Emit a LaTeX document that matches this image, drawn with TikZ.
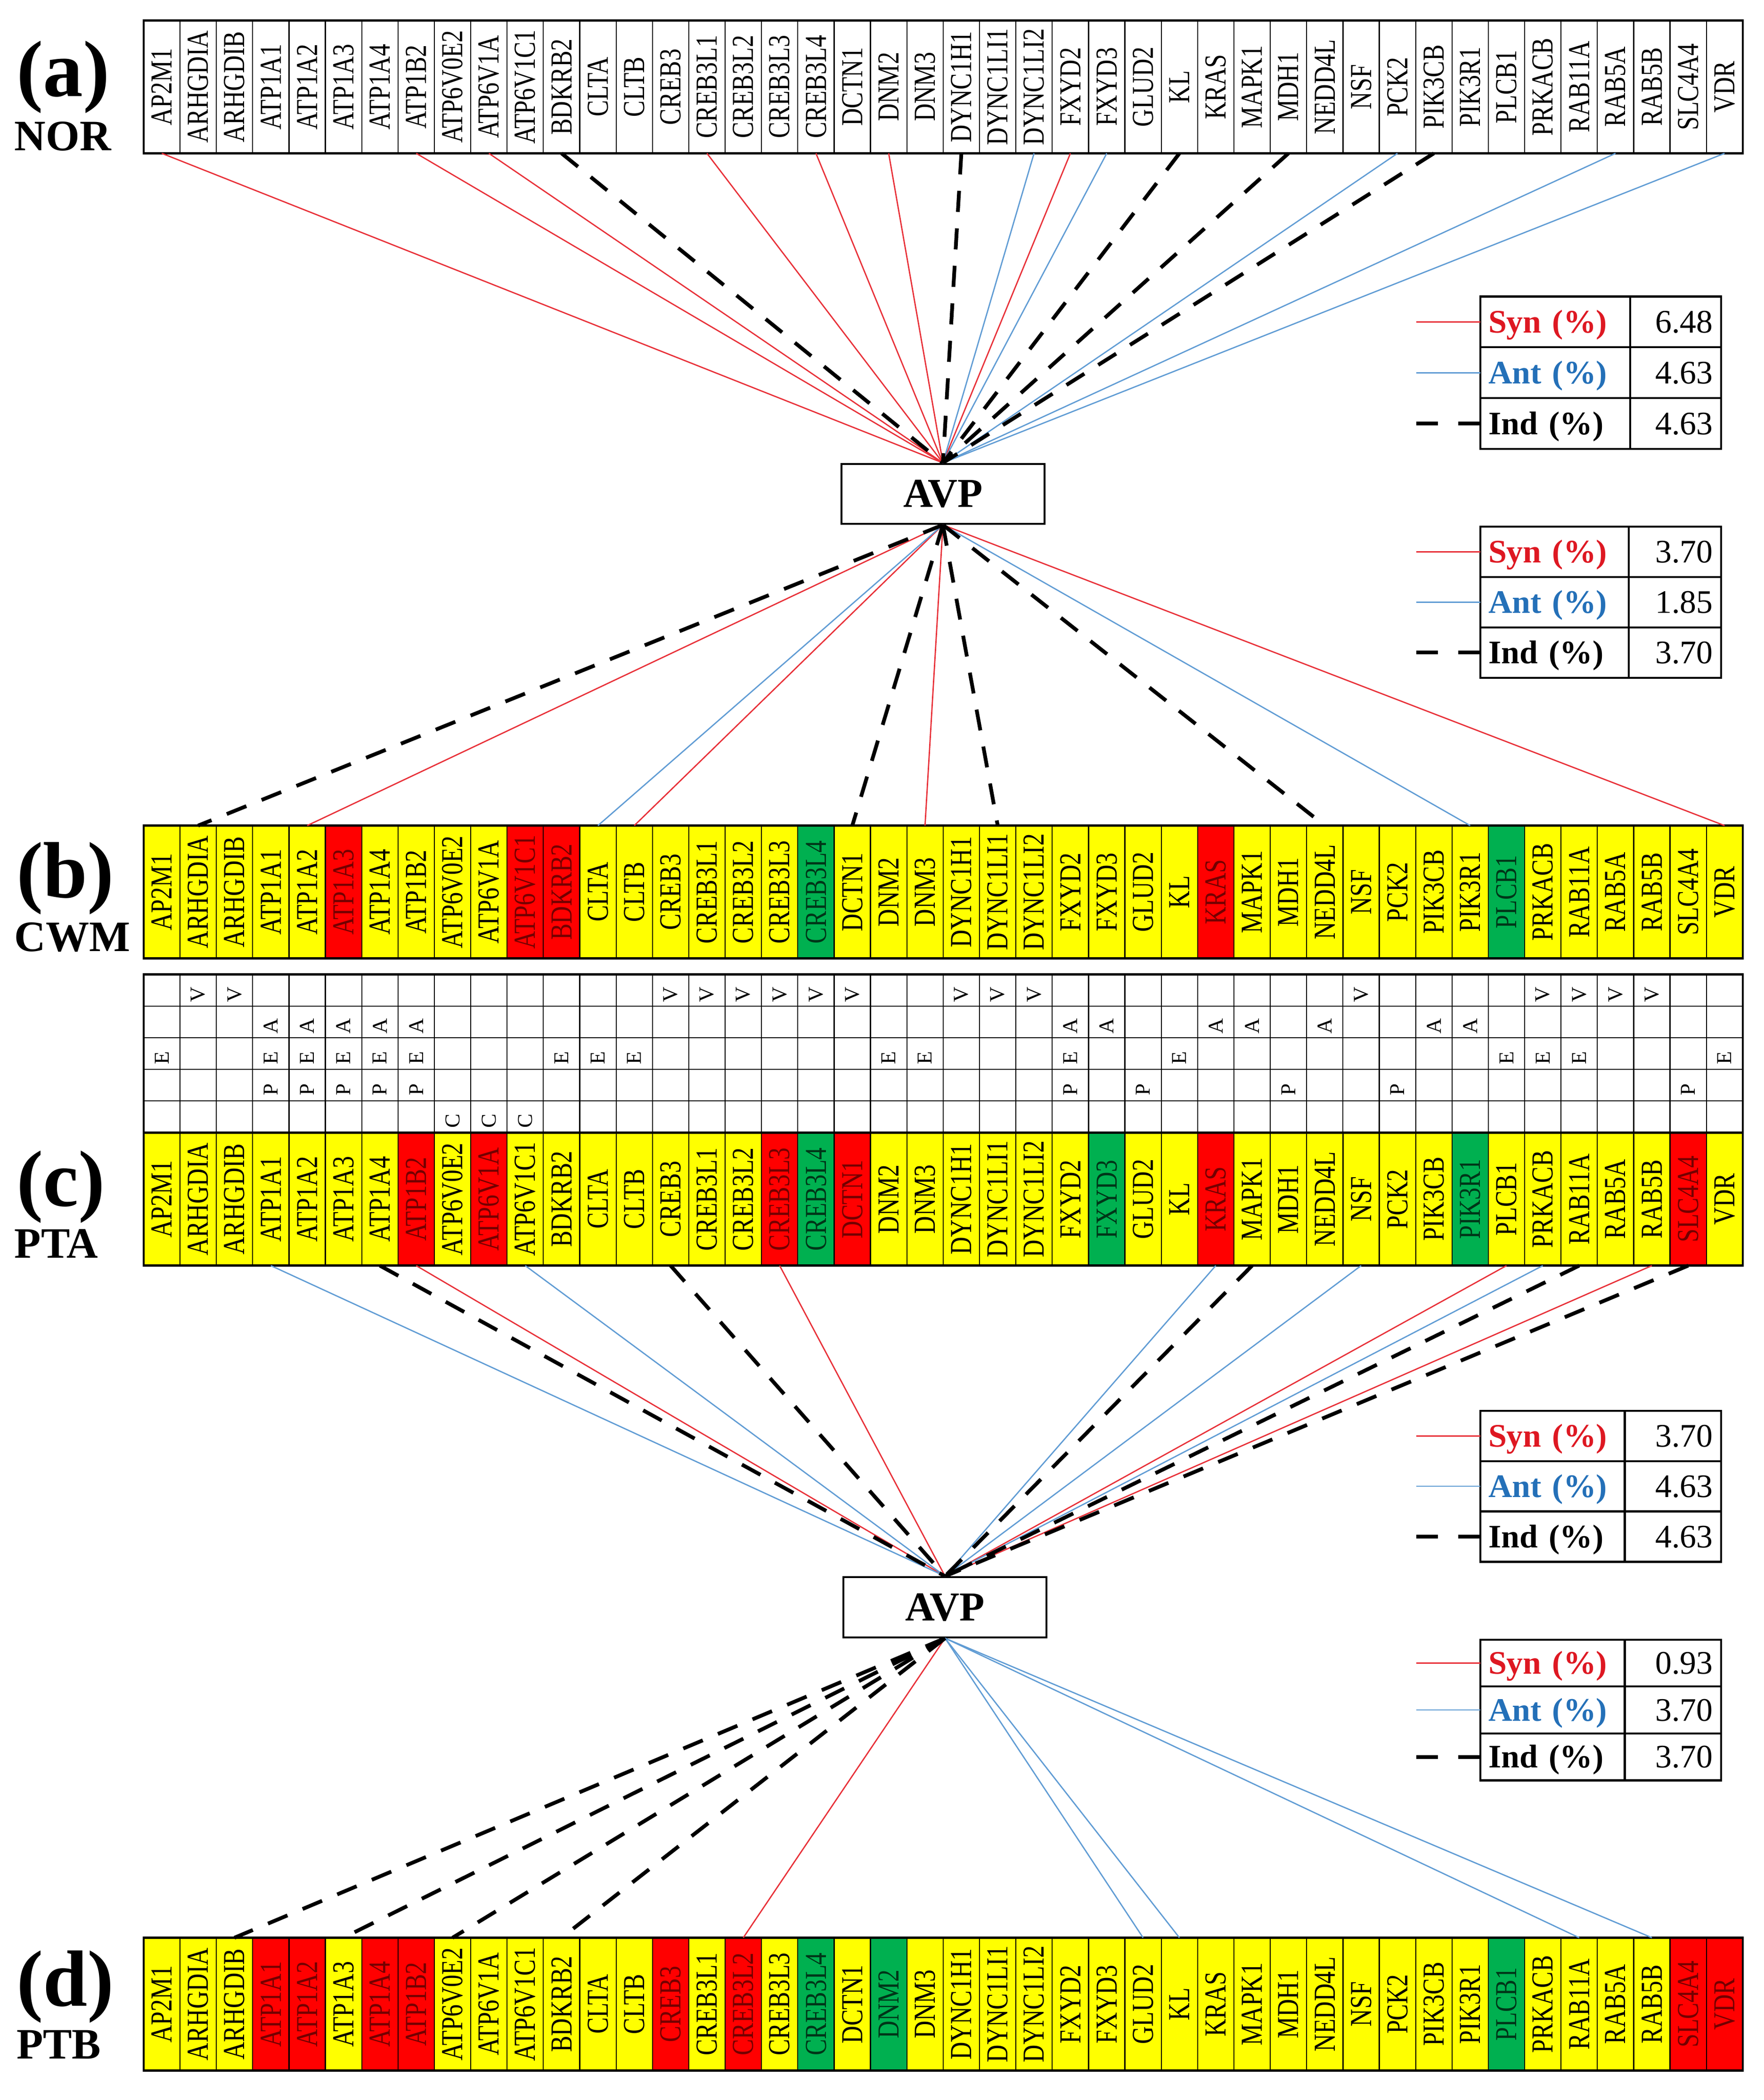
\documentclass[tikz,border=0pt]{standalone}
\usepackage{fontspec}
\usepackage{graphicx}
\setmainfont{Liberation Serif}
\usetikzlibrary{positioning}

\definecolor{cy}{RGB}{255,255,0}
\definecolor{cr}{RGB}{255,0,0}
\definecolor{cg}{RGB}{0,176,80}
\colorlet{ty}{black}
\colorlet{tr}{cr!45!black}
\colorlet{tg}{cg!30!black}
\definecolor{synred}{RGB}{222,24,34}
\definecolor{antblue}{RGB}{36,112,184}
\definecolor{synline}{RGB}{232,48,56}
\definecolor{antline}{RGB}{96,156,212}

\newcommand{\genename}[1]{\rotatebox{90}{\scalebox{0.8}[1]{#1}}}
\newcommand{\genelist}{%
AP2M1/y/y/y, ARHGDIA/y/y/y, ARHGDIB/y/y/y, ATP1A1/y/y/r, ATP1A2/y/y/r,
ATP1A3/r/y/y, ATP1A4/y/y/r, ATP1B2/y/r/r, ATP6V0E2/y/y/y, ATP6V1A/y/r/y,
ATP6V1C1/r/y/y, BDKRB2/r/y/y, CLTA/y/y/y, CLTB/y/y/y, CREB3/y/y/r,
CREB3L1/y/y/y, CREB3L2/y/y/r, CREB3L3/y/r/y, CREB3L4/g/g/g, DCTN1/y/r/y,
DNM2/y/y/g, DNM3/y/y/y, DYNC1H1/y/y/y, DYNC1LI1/y/y/y, DYNC1LI2/y/y/y,
FXYD2/y/y/y, FXYD3/y/g/y, GLUD2/y/y/y, KL/y/y/y, KRAS/r/r/y,
MAPK1/y/y/y, MDH1/y/y/y, NEDD4L/y/y/y, NSF/y/y/y, PCK2/y/y/y,
PIK3CB/y/y/y, PIK3R1/y/g/y, PLCB1/g/y/g, PRKACB/y/y/y, RAB11A/y/y/y,
RAB5A/y/y/y, RAB5B/y/y/y, SLC4A4/y/r/r, VDR/y/y/r}

\begin{document}
\begin{tikzpicture}[x=0.02cm, y=-0.02cm,
  gene/.style = {draw, line width=0.45pt, minimum width=0.544cm, minimum height=1.99cm,
    inner sep=0pt, outer sep=0pt, font=\fontsize{13}{13}\selectfont},
  flag/.style = {inner sep=0pt, font=\fontsize{9}{9}\selectfont},
  avpbox/.style = {draw, fill=white, line width=0.8pt, minimum width=3.04cm,
    minimum height=0.9cm, inner sep=0pt, font=\fontsize{17.5}{17.5}\selectfont\bfseries},
  panel/.style = {anchor=base west, inner sep=0pt, font=\fontsize{34}{34}\selectfont\bfseries},
  cohort/.style = {anchor=base west, inner sep=0pt, font=\fontsize{18.5}{18.5}\selectfont\bfseries},
  legkey/.style = {draw, line width=0.85pt, anchor=north west, inner xsep=0.11cm, inner ysep=0pt,
    outer sep=0pt, align=left, text height=9.3pt, text depth=0pt,
    font=\fontsize{14}{14}\selectfont\bfseries},
  legval/.style = {legkey, align=right, font=\fontsize{14}{14}\selectfont},
  synlink/.style = {synline, line width=0.55pt},
  antlink/.style = {antline, line width=0.55pt},
  indlink/.style = {black, line width=1.6pt, dash pattern=on 9pt off 7pt}]

\useasboundingbox (0,0) rectangle (1320,1572);

% gene rows
\foreach \g/\cb/\cc/\cd [count=\i] in \genelist {
  \node[gene] (a\i) at ({107.5+(\i-0.5)*27.2},65.05) {\genename{\g}};
  \node[gene, fill=c\cb, text=t\cb] (b\i) at ({107.5+(\i-0.5)*27.2},667.75) {\genename{\g}};
  \node[gene, fill=c\cc, text=t\cc] (c\i) at ({107.5+(\i-0.5)*27.2},897.65) {\genename{\g}};
  \node[gene, fill=c\cd, text=t\cd] (d\i) at ({107.5+(\i-0.5)*27.2},1500.25) {\genename{\g}};
}
\foreach \r in {a,b,c,d}
  \draw[line width=0.9pt] (\r1.north west) rectangle (\r44.south east);

% location grid
\foreach \k in {0,...,5}
  \draw[line width=0.45pt] (107.5,{729.4+\k*23.7}) -- (1304.3,{729.4+\k*23.7});
\foreach \k in {0,...,44}
  \draw[line width=0.45pt] ({107.5+\k*27.2},729.4) -- ({107.5+\k*27.2},847.9);
\draw[line width=0.9pt] (107.5,729.4) rectangle (1304.3,847.9);
\foreach \code/\r/\cols in {V/1/{2,3,15,16,17,18,19,20,23,24,25,34,39,40,41,42},
    A/2/{4,5,6,7,8,26,27,30,31,33,36,37},
    E/3/{1,4,5,6,7,8,12,13,14,21,22,26,29,38,39,40,44},
    P/4/{4,5,6,7,8,26,28,32,35,43},
    C/5/{9,10,11}}
  \foreach \i in \cols
    \node[flag] (f\code\i) at ({107.5+(\i-0.5)*27.2},{729.4+(\r-1)*23.7+15}) {\rotatebox{90}{\code}};

% panel labels
\node[panel] (pa) at (12,72) {(a)};
\node[cohort] (na) at (10.5,112.8) {NOR};
\node[panel] (pb) at (12,672) {(b)};
\node[cohort] (nb) at (10.5,712) {CWM};
\node[panel] (pc) at (12,903) {(c)};
\node[cohort] (nc) at (10.5,941.5) {PTA};
\node[panel] (pd) at (12,1501.5) {(d)};
\node[cohort] (nd) at (12,1541) {PTB};

\node[avpbox] (avp1) at (705.7,369.7) {AVP};
\node[avpbox] (avp2) at (707.3,1203.1) {AVP};

% NOR -> AVP
\foreach \i in {1,8,10,16,19,21,26} \draw[synlink] (a\i.south) -- (avp1.north);
\foreach \i in {25,27,35,41,44} \draw[antlink] (a\i.south) -- (avp1.north);
\foreach \i in {12,23,29,32,36} \draw[indlink] (a\i.south) -- (avp1.north);
% AVP -> CWM
\foreach \i in {5,14,22,44} \draw[synlink] (avp1.south) -- (b\i.north);
\foreach \i in {13,37} \draw[antlink] (avp1.south) -- (b\i.north);
\foreach \i in {2,20,24,33} \draw[indlink] (avp1.south) -- (b\i.north);
% PTA -> AVP
\foreach \i in {8,18,38,42} \draw[synlink] (c\i.south) -- (avp2.north);
\foreach \i in {4,11,30,34,39} \draw[antlink] (c\i.south) -- (avp2.north);
\foreach \i in {7,15,31,40,43} \draw[indlink] (c\i.south) -- (avp2.north);
% AVP -> PTB
\foreach \i in {17} \draw[synlink] (avp2.south) -- (d\i.north);
\foreach \i in {28,29,40,42} \draw[antlink] (avp2.south) -- (d\i.north);
\foreach \i in {3,6,9,12} \draw[indlink] (avp2.south) -- (d\i.north);

% legends
\foreach \n/\yt/\xs/\rh/\vs/\va/\vi in {1/222/1220/38/6.48/4.63/4.63,
    2/394.2/1219/37.7/3.70/1.85/3.70, 3/1056/1216/37.7/3.70/4.63/4.63,
    4/1227.4/1216/35.1/0.93/3.70/3.70} {
  \pgfmathsetmacro\kw{(\xs-1108)*0.02}
  \pgfmathsetmacro\kt{(\xs-1108)*0.02-0.24}
  \pgfmathsetmacro\vw{(1288-\xs)*0.02}
  \pgfmathsetmacro\vt{(1288-\xs)*0.02-0.24}
  \pgfmathsetmacro\hh{\rh*0.02}
  \node[legkey, text=synred, minimum width=\kw cm, text width=\kt cm, minimum height=\hh cm]
    (syn\n) at (1108,\yt) {Syn (\%)};
  \node[legkey, text=antblue, minimum width=\kw cm, text width=\kt cm, minimum height=\hh cm]
    (ant\n) at (syn\n.south west) {Ant (\%)};
  \node[legkey, minimum width=\kw cm, text width=\kt cm, minimum height=\hh cm]
    (ind\n) at (ant\n.south west) {Ind (\%)};
  \node[legval, minimum width=\vw cm, text width=\vt cm, minimum height=\hh cm]
    (vs\n) at (syn\n.north east) {\vs};
  \node[legval, minimum width=\vw cm, text width=\vt cm, minimum height=\hh cm]
    (va\n) at (ant\n.north east) {\va};
  \node[legval, minimum width=\vw cm, text width=\vt cm, minimum height=\hh cm]
    (vi\n) at (ind\n.north east) {\vi};
  \coordinate (ls\n) at ([xshift=-0.96cm]syn\n.west);
  \coordinate (la\n) at ([xshift=-0.96cm]ant\n.west);
  \coordinate (li\n) at ([xshift=-0.96cm]ind\n.west);
  \draw[synlink] (ls\n) -- (syn\n.west);
  \draw[antlink] (la\n) -- (ant\n.west);
  \draw[indlink, dash pattern=on 9.3pt off 8.6pt] (li\n) -- (ind\n.west);
}
\end{tikzpicture}
\end{document}
